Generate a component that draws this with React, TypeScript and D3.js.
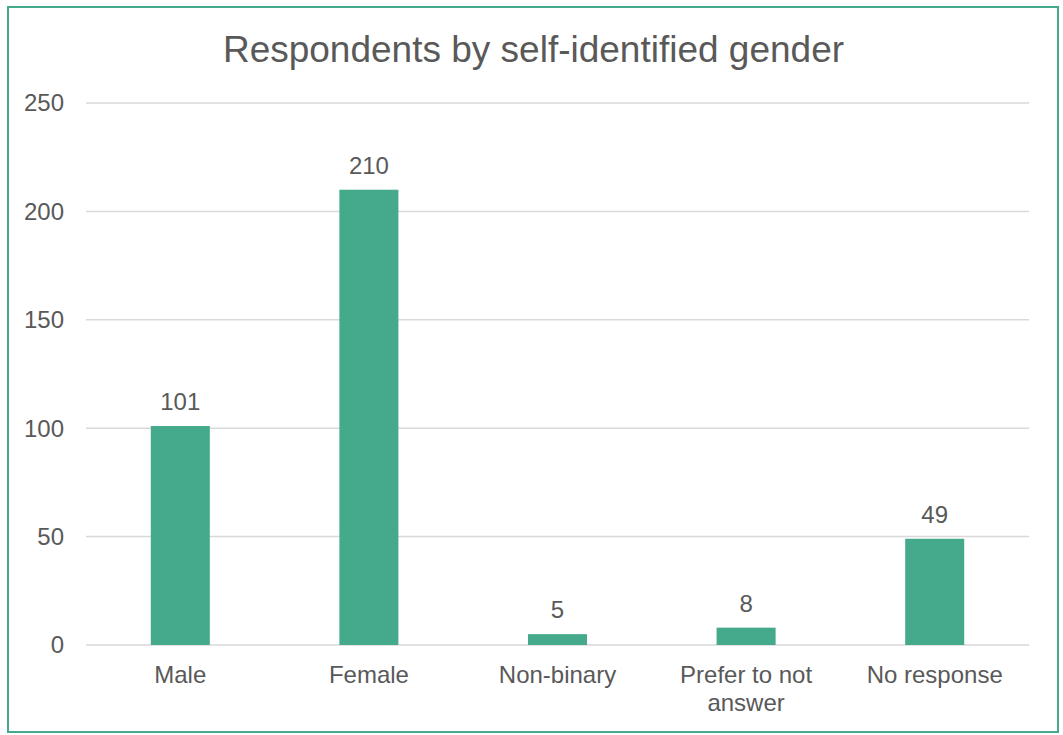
import React from "react";
import * as d3 from "d3";

const categories = ["Male", "Female", "Non-binary", "Prefer to not answer", "No response"];
const categoryLines = [["Male"], ["Female"], ["Non-binary"], ["Prefer to not", "answer"], ["No response"]];
const values = [101, 210, 5, 8, 49];
const yTicks = [0, 50, 100, 150, 200, 250];
const title = "Respondents by self-identified gender";

const W = 1063;
const H = 735;
const left = 86;
const right = 1029;
const top = 103;
const bottom = 645;
const FONT = "'Liberation Sans', Arial, sans-serif";
const TEXT = "#595959";
const BAR = "#44AA8B";

export default function App() {
  const x = d3.scaleBand<string>().domain(categories).range([left, right]).paddingInner(0.687).paddingOuter(0.3435);
  const y = d3.scaleLinear().domain([0, 250]).range([bottom, top]);

  return (
    <svg width={W} height={H} style={{ position: "absolute", left: 0, top: 0, background: "#fff" }} fontFamily={FONT}>
      <rect x={0} y={0} width={W} height={H} fill="#fff" />
      <rect x={8} y={7} width={1050} height={725} fill="none" stroke="#44AA8B" strokeWidth={2} />
      <text x={533.5} y={62} textAnchor="middle" fontSize={37} fill={TEXT}>{title}</text>
      {yTicks.map((t) => (
        <g key={t}>
          <line x1={left} x2={right} y1={y(t)} y2={y(t)} stroke="#d9d9d9" strokeWidth={1.5} />
          <text x={64} y={y(t)} dy="0.35em" textAnchor="end" fontSize={24} fill={TEXT}>{t}</text>
        </g>
      ))}
      {categories.map((c, i) => {
        const bx = x(c)!;
        const bw = x.bandwidth();
        const cx = bx + bw / 2;
        return (
          <g key={c}>
            <rect x={bx} y={y(values[i])} width={bw} height={bottom - y(values[i])} fill={BAR} />
            <text x={cx} y={y(values[i]) - 16} textAnchor="middle" fontSize={24} fill={TEXT}>{values[i]}</text>
            <text x={cx} y={683} textAnchor="middle" fontSize={24} fill={TEXT}>
              {categoryLines[i].map((ln, j) => (
                <tspan key={j} x={cx} dy={j === 0 ? 0 : 28}>{ln}</tspan>
              ))}
            </text>
          </g>
        );
      })}
    </svg>
  );
}
